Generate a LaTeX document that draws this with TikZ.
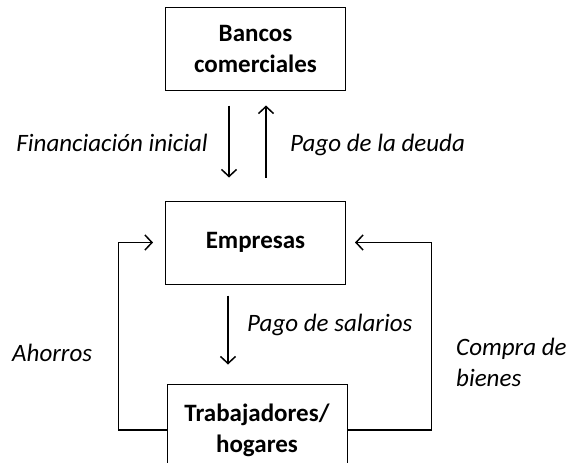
\documentclass[tikz,border=0pt]{standalone}
\usepackage{fontspec}
\setmainfont{Carlito}
\usetikzlibrary{arrows.meta,positioning}
\tikzset{
  caja/.style={draw, line width=1pt, minimum width=180pt, align=center, font=\bfseries\fontsize{25}{31}\selectfont},
  flujo/.style={line width=1.5pt, -{Straight Barb[length=7pt,width=15pt,line width=1.5pt]}},
  rotulo/.style={font=\itshape\fontsize{25}{31}\selectfont, inner sep=0pt}
}
\begin{document}
\begin{tikzpicture}[x=1pt,y=-1pt]
\useasboundingbox (0,0) rectangle (568,463);
\clip (0,0) rectangle (568,463);

% cajas
\node[caja, minimum height=83pt] (bancos) at (255.5,48.5) {Bancos\\comerciales};
\node[caja, minimum height=83pt] (empresas) at (255.5,242.5) {Empresas};
\node[caja, minimum height=92pt] (hogares) at (257,430) {Trabajadores/\\hogares};

% bancos <-> empresas
\draw[flujo, shorten <=15pt, shorten >=23pt] ([xshift=-26.5pt]bancos.south) -- ([xshift=-26.5pt]bancos.south |- empresas.north);
\draw[flujo, shorten <=23pt, shorten >=15pt] ([xshift=10.5pt]bancos.south |- empresas.north) -- ([xshift=10.5pt]bancos.south);
\node[rotulo, anchor=east] (fin) at (208,143) {Financiación inicial};
\node[rotulo, anchor=west] (deuda) at (290,145) {Pago de la deuda};

% empresas -> hogares
\draw[flujo, shorten <=11pt, shorten >=19pt] ([xshift=-27.5pt]empresas.south) -- ([xshift=-27.5pt]empresas.south |- hogares.north);
\node[rotulo, anchor=west] (salarios) at (247,325) {Pago de salarios};

% circuito
\draw[flujo] (hogares.west) -- ++(-48,0) |- ([xshift=-12pt]empresas.west);
\draw[flujo] (hogares.east) -- ++(84,0) |- ([xshift=9pt]empresas.east);
\node[rotulo, anchor=west] (ahorros) at (12,353) {Ahorros};
\node[rotulo, anchor=west, align=left] (compra) at (456,362) {Compra de\\bienes};

\end{tikzpicture}
\end{document}
